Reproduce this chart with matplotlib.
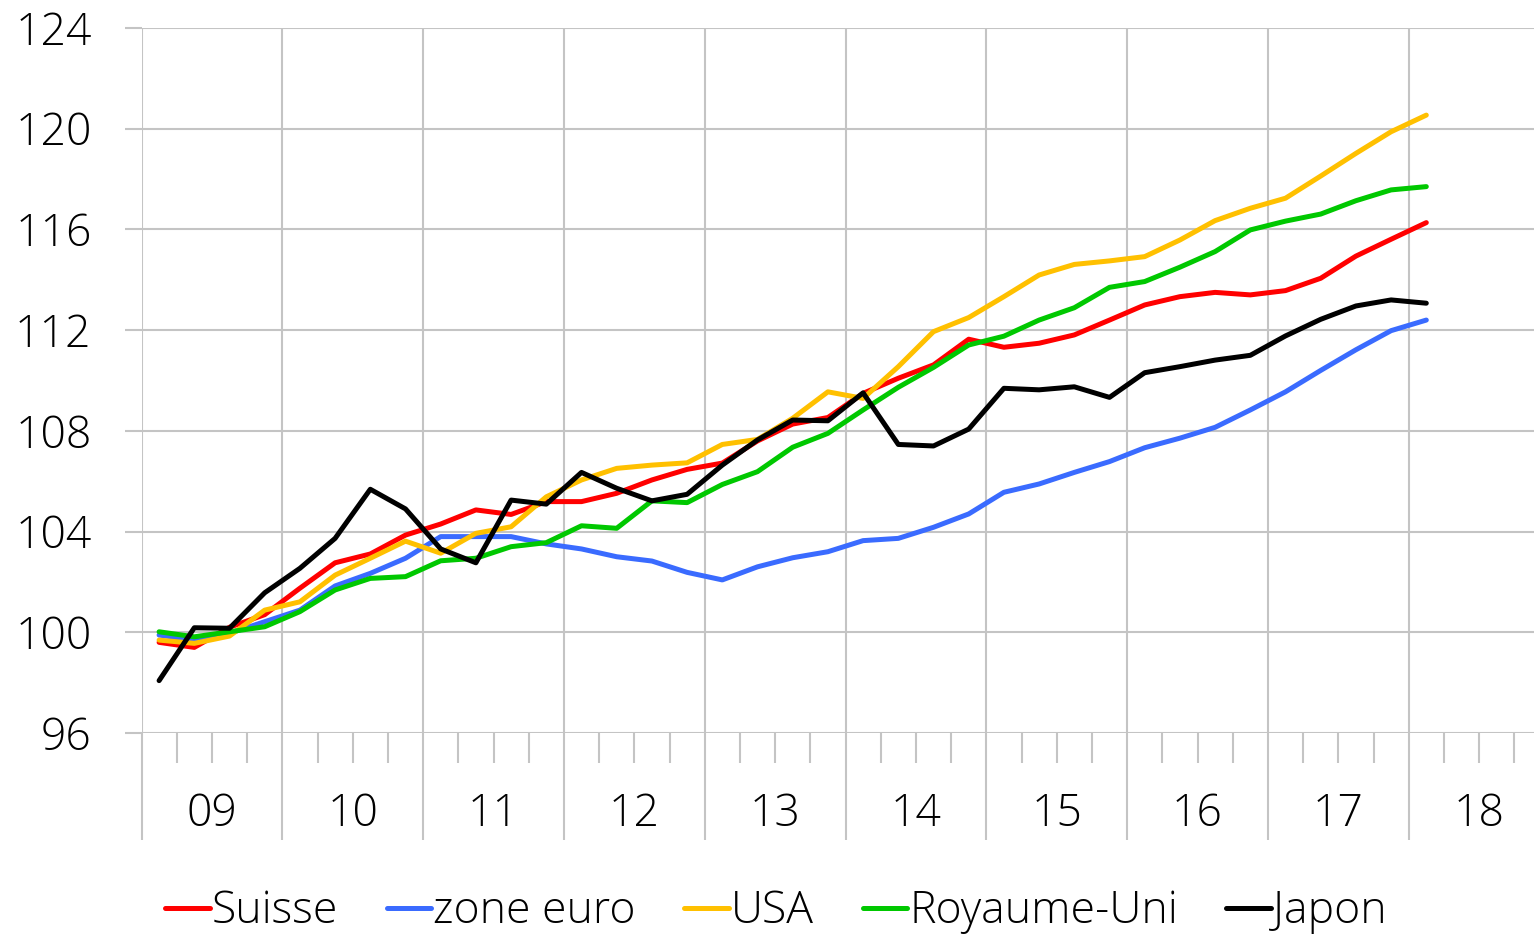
import matplotlib
matplotlib.use("Agg")
import matplotlib.pyplot as plt
import matplotlib.transforms as mtransforms
import numpy as np

plt.rcParams['font.family'] = ['Open Sans Light', 'Open Sans', 'DejaVu Sans']
plt.rcParams['font.weight'] = 'light'

year_labels = ["09", "10", "11", "12", "13", "14", "15", "16", "17", "18"]
series_names = ["Suisse", "zone euro", "USA", "Royaume-Uni", "Japon"]
series_colors = ["#FF0000", "#3A6BFF", "#FFC000", "#00C800", "#000000"]

# Quarterly values, 2009Q1 .. 2018Q1
suisse = [99.6, 99.4, 100.2, 100.7, 101.75, 102.76, 103.11, 103.86, 104.3, 104.86,
          104.68, 105.19, 105.19, 105.52, 106.05, 106.47, 106.72, 107.6, 108.27, 108.53,
          109.49, 110.09, 110.62, 111.64, 111.32, 111.48, 111.81, 112.4, 113.0, 113.33,
          113.5, 113.4, 113.57, 114.06, 114.94, 115.61, 116.27]
zone_euro = [99.89, 99.69, 99.96, 100.42, 100.88, 101.84, 102.34, 102.94, 103.8, 103.8,
             103.8, 103.51, 103.31, 103.0, 102.83, 102.38, 102.08, 102.6, 102.96, 103.2,
             103.64, 103.73, 104.17, 104.7, 105.56, 105.89, 106.35, 106.78, 107.33, 107.71,
             108.14, 108.83, 109.55, 110.4, 111.22, 111.98, 112.4]
usa = [99.69, 99.56, 99.85, 100.88, 101.21, 102.27, 102.94, 103.62, 103.14, 103.93,
       104.19, 105.38, 106.05, 106.51, 106.64, 106.73, 107.46, 107.66, 108.5, 109.55,
       109.29, 110.55, 111.94, 112.5, 113.33, 114.19, 114.61, 114.75, 114.92, 115.58,
       116.35, 116.84, 117.24, 118.12, 119.02, 119.88, 120.54]
royaume_uni = [100.02, 99.82, 100.02, 100.22, 100.82, 101.68, 102.14, 102.21, 102.84, 102.94,
               103.4, 103.56, 104.23, 104.13, 105.22, 105.15, 105.87, 106.38, 107.35, 107.9,
               108.83, 109.73, 110.52, 111.41, 111.76, 112.4, 112.89, 113.7, 113.93, 114.5,
               115.12, 115.98, 116.33, 116.61, 117.14, 117.57, 117.7]
japon = [98.08, 100.18, 100.16, 101.57, 102.54, 103.73, 105.68, 104.9, 103.31, 102.76,
         105.25, 105.09, 106.35, 105.72, 105.22, 105.48, 106.64, 107.64, 108.43, 108.4,
         109.51, 107.46, 107.4, 108.07, 109.69, 109.63, 109.75, 109.33, 110.31, 110.55,
         110.81, 111.0, 111.77, 112.43, 112.96, 113.2, 113.07]

all_series = [suisse, zone_euro, usa, royaume_uni, japon]

W, H = 1534, 934
fig = plt.figure(figsize=(W / 100, H / 100), dpi=100)
left_px, right_px = 141.5, 141.5 + 40 * 35.2
top_px, bottom_px = 28, 733
ax = fig.add_axes([left_px / W, (H - bottom_px) / H,
                   (right_px - left_px) / W, (bottom_px - top_px) / H])

grid_c = "#C4C4C4"
lw_grid = 1.5
fs = 32

x = np.arange(len(suisse))
for vals, name, col in zip(all_series, series_names, series_colors):
    ax.plot(x, vals, color=col, lw=3.6, label=name, solid_capstyle='round',
            solid_joinstyle='round', zorder=3)

ax.set_xlim(-0.5, 39.5)
ax.set_ylim(96, 124)
ax.set_yticks(np.arange(96, 125, 4))

ax.set_xticks(np.arange(-0.5, 40, 4))
ax.set_xticks([q - 0.5 for q in range(40) if q % 4 != 0], minor=True)
ax.set_xticklabels([])

ax.grid(True, which='major', color=grid_c, lw=lw_grid, zorder=0)
for s in ax.spines.values():
    s.set_visible(False)
ax.set_axisbelow(True)

ax.tick_params(axis='y', which='major', direction='out', length=12, width=lw_grid,
               color=grid_c, pad=24, labelsize=fs, labelcolor='black')
ax.tick_params(axis='x', which='major', direction='out', length=77, width=lw_grid,
               color=grid_c)
ax.tick_params(axis='x', which='minor', direction='out', length=21.5, width=lw_grid,
               color=grid_c)

trans = mtransforms.blended_transform_factory(ax.transData, ax.transAxes)
for k, lab in enumerate(year_labels):
    ax.text(4 * k + 1.5, -(815 - bottom_px) / (bottom_px - top_px), lab,
            transform=trans, ha='center', va='center', fontsize=fs, color='black')

fig.legend(loc='center', bbox_to_anchor=(776 / W, (H - 912) / H), ncol=5,
           frameon=False, fontsize=fs, handlelength=1.0, handletextpad=0.05,
           columnspacing=1.09, borderaxespad=0)

fig.savefig("out.png", dpi=100)
